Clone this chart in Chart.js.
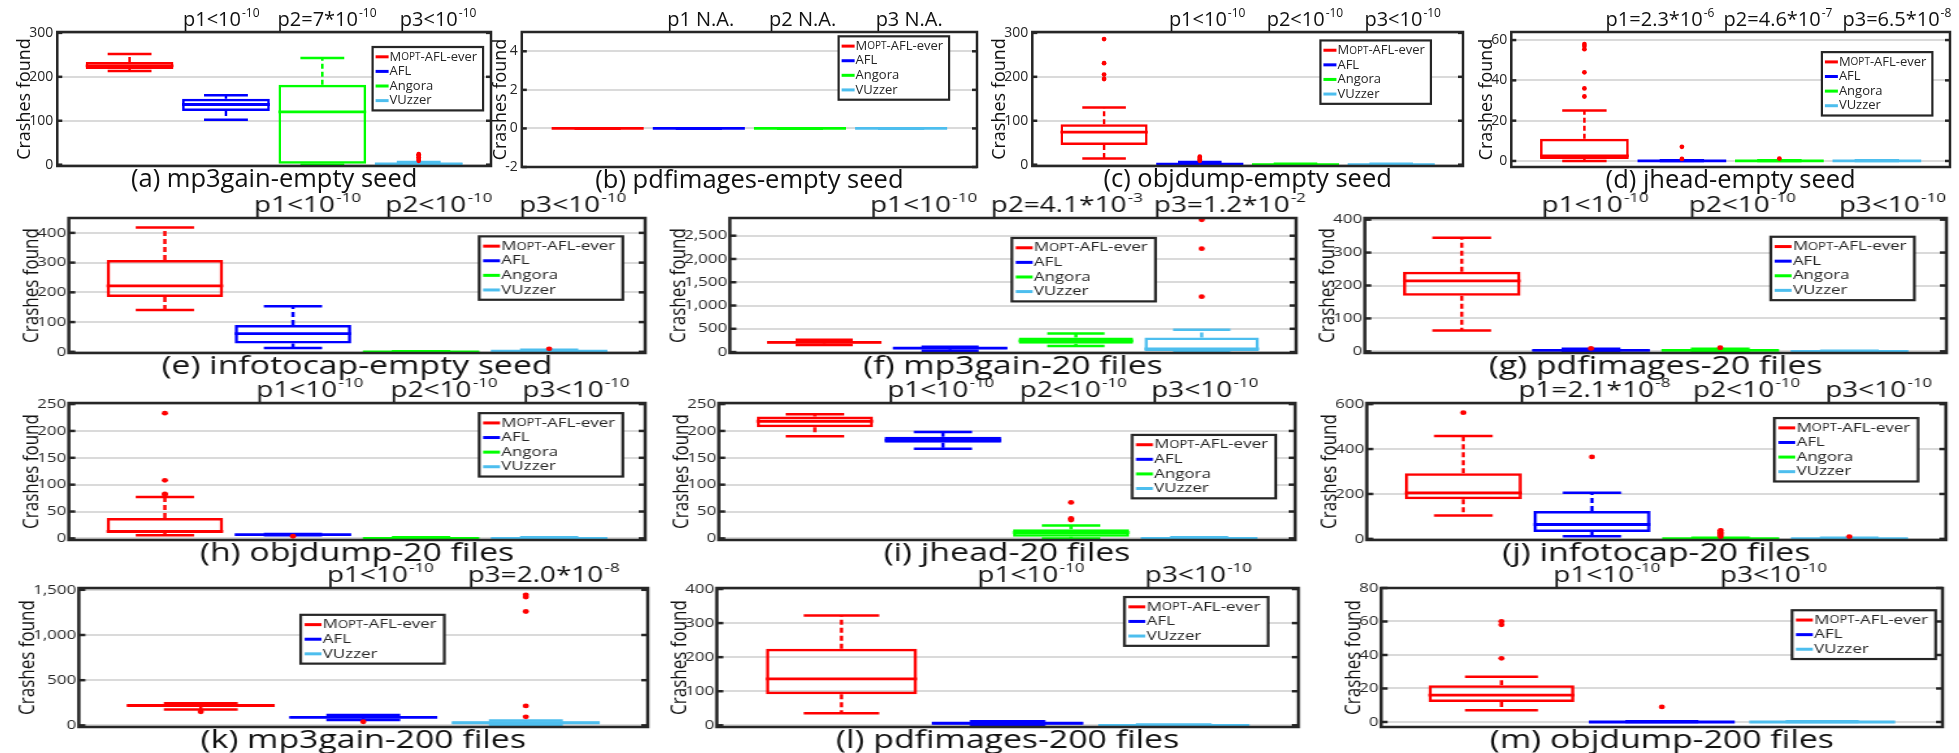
<!DOCTYPE html>
<html>
<head>
<meta charset="utf-8">
<script src="https://cdn.jsdelivr.net/npm/chart.js@4.4.1/dist/chart.umd.min.js"></script>
<style>
  html, body { margin: 0; padding: 0; background: #fff; }
  body { width: 1959px; height: 753px; position: relative; overflow: hidden; }
  .panel { position: absolute; transform-origin: 0 0; }
</style>
</head>
<body>
<script>
// fuzzers
const fuzzers4 = ['MOPT-AFL-ever', 'AFL', 'Angora', 'VUzzer'];
const fuzzers3 = ['MOPT-AFL-ever', 'AFL', 'VUzzer'];

// box stats per fuzzer: [low whisker, q1, median, q3, high whisker]
const statsA = [[213, 218, 225, 234, 252], [102, 122, 137, 150, 158], [0, 0, 120, 182, 243], [0, 1, 2, 4, 6]];
const outA = [[], [], [], [9, 13, 17, 21, 24]];
const pA = [['p1<10', '-10'], ['p2=7*10', '-10'], ['p3<10', '-10']];
const ticksA = [0, 100, 200, 300];
const rangeA = [-3, 302];

const statsB = [[0, 0, 0, 0, 0], [0, 0, 0, 0, 0], [0, 0, 0, 0, 0], [0, 0, 0, 0, 0]];
const outB = [[], [], [], []];
const pB = [['p1 N.A.', ''], ['p2 N.A.', ''], ['p3 N.A.', '']];
const ticksB = [-2, 0, 2, 4];
const rangeB = [-2, 5];

const statsC = [[14, 45, 74, 92, 130], [0, 0, 1, 3, 6], [0, 0, 0, 1, 2], [0, 0, 0, 1, 2]];
const outC = [[286, 231, 205, 195], [9, 12, 15, 18], [], []];
const pC = [['p1<10', '-10'], ['p2<10', '-10'], ['p3<10', '-10']];
const ticksC = [0, 100, 200, 300];
const rangeC = [-3, 302];

const statsD = [[0, 1, 2.5, 11, 25], [0, 0, 0, 0, 0.3], [0, 0, 0, 0, 0.3], [0, 0, 0, 0, 0.3]];
const outD = [[58, 57, 55.5, 44, 36, 32], [7, 1], [1.2], []];
const pD = [['p1=2.3*10', '-6'], ['p2=4.6*10', '-7'], ['p3=6.5*10', '-8']];
const ticksD = [0, 20, 40, 60];
const rangeD = [-3, 64];

const statsE = [[141, 184, 222, 309, 418], [13, 28, 61, 90, 153], [0, 0, 0, 1, 2], [0, 1, 2, 4, 7]];
const outE = [[], [], [], [10]];
const pE = [['p1<10', '-10'], ['p2<10', '-10'], ['p3<10', '-10']];
const ticksE = [0, 100, 200, 300, 400];
const rangeE = [-4, 450];

const statsF = [[150, 185, 210, 235, 262], [30, 62, 85, 102, 115], [129, 180, 240, 314, 400], [0, 0, 70, 314, 478]];
const outF = [[], [], [], [2840, 2220, 1190]];
const pF = [['p1<10', '-10'], ['p2=4.1*10', '-3'], ['p3=1.2*10', '-2']];
const ticksF = [0, 500, 1000, 1500, 2000, 2500];
const rangeF = [-20, 2880];

const statsG = [[63, 169, 214, 242, 345], [0, 1, 3, 6, 8], [0, 1, 3, 6, 8], [0, 0, 0, 1, 2]];
const outG = [[], [9], [11], []];
const pG = [['p1<10', '-10'], ['p2<10', '-10'], ['p3<10', '-10']];
const ticksG = [0, 100, 200, 300, 400];
const rangeG = [-5, 405];

const statsH = [[6, 10, 13, 38, 77], [6, 6, 7, 7, 8], [0, 0, 0, 1, 2], [0, 0, 0, 1, 2]];
const outH = [[233, 108, 83, 81], [4], [], []];
const pH = [['p1<10', '-10'], ['p2<10', '-10'], ['p3<10', '-10']];
const ticksH = [0, 50, 100, 150, 200, 250];
const rangeH = [-3, 252];

const statsI = [[190, 207, 218, 227, 231], [167, 178, 183, 189, 198], [0, 3, 11, 17, 24], [0, 0, 0, 1, 2]];
const outI = [[], [], [67, 37, 34], []];
const pI = [['p1<10', '-10'], ['p2<10', '-10'], ['p3<10', '-10']];
const ticksI = [0, 50, 100, 150, 200, 250];
const rangeI = [-3, 252];

const statsJ = [[104, 176, 205, 292, 458], [12, 31, 64, 124, 205], [0, 0, 1, 3, 5], [0, 0, 1, 3, 5]];
const outJ = [[562], [365], [10, 15, 20, 25, 30, 35, 38], [10]];
const pJ = [['p1=2.1*10', '-8'], ['p2<10', '-10'], ['p3<10', '-10']];
const ticksJ = [0, 200, 400, 600];
const rangeJ = [-5, 605];

const statsK = [[175, 210, 220, 232, 245], [60, 78, 88, 98, 115], [0, 10, 30, 44, 55]];
const outK = [[150], [40], [1445, 1420, 1260, 215, 95]];
const pK = [['p1<10', '-10'], ['p3=2.0*10', '-8']];
const ticksK = [0, 500, 1000, 1500];
const rangeK = [-18, 1520];

const statsL = [[35, 91, 136, 225, 322], [0, 2, 6, 10, 12], [0, 0, 0, 1, 2]];
const outL = [[], [], []];
const pL = [['p1<10', '-10'], ['p3<10', '-10']];
const ticksL = [0, 100, 200, 300, 400];
const rangeL = [-5, 403];

const statsM = [[7, 12, 16, 22, 27], [0, 0, 0, 0, 0.5], [0, 0, 0, 0, 0.5]];
const outM = [[60, 58, 38], [9], []];
const pM = [['p1<10', '-10'], ['p3<10', '-10']];
const ticksM = [0, 20, 40, 60, 80];
const rangeM = [-3, 80];

const colors4 = ['#ff0000', '#0000ff', '#00ff00', '#4dbeee'];
const colors3 = ['#ff0000', '#0000ff', '#4dbeee'];

// layout: frame = [left, top, width, height] of the plot box, sx = horizontal stretch,
// legend = top-left corner as fraction of the plot box, plab = p-label centres as fraction of width
const panels = [
  { caption: '(a) mp3gain-empty seed', names: fuzzers4, stats: statsA, out: outA, pv: pA, ticks: ticksA, range: rangeA, frame: [57, 32, 434, 134], sx: 1, legend: [0.727, 0.112], plab: [0.378, 0.622, 0.878] },
  { caption: '(b) pdfimages-empty seed', names: fuzzers4, stats: statsB, out: outB, pv: pB, ticks: ticksB, range: rangeB, frame: [522, 32, 455, 135], sx: 1, legend: [0.696, 0.032], plab: [0.393, 0.617, 0.851] },
  { caption: '(c) objdump-empty seed', names: fuzzers4, stats: statsC, out: outC, pv: pC, ticks: ticksC, range: rangeC, frame: [1032, 32, 431, 134], sx: 1, legend: [0.669, 0.063], plab: [0.406, 0.633, 0.860] },
  { caption: '(d) jhead-empty seed', names: fuzzers4, stats: statsD, out: outD, pv: pD, ticks: ticksD, range: rangeD, frame: [1511, 32, 439, 135], sx: 1, legend: [0.708, 0.149], plab: [0.339, 0.608, 0.879] },
  { caption: '(e) infotocap-empty seed', names: fuzzers4, stats: statsE, out: outE, pv: pE, ticks: ticksE, range: rangeE, frame: [69, 218, 577, 135], sx: 1.3, legend: [0.712, 0.136], plab: [0.414, 0.642, 0.874] },
  { caption: '(f) mp3gain-20 files', names: fuzzers4, stats: statsF, out: outF, pv: pF, ticks: ticksF, range: rangeF, frame: [730, 218, 566, 135], sx: 1.3, legend: [0.498, 0.148], plab: [0.342, 0.595, 0.883] },
  { caption: '(g) pdfimages-20 files', names: fuzzers4, stats: statsG, out: outG, pv: pG, ticks: ticksG, range: rangeG, frame: [1365, 218, 581, 135], sx: 1.3, legend: [0.698, 0.139], plab: [0.396, 0.649, 0.907] },
  { caption: '(h) objdump-20 files', names: fuzzers4, stats: statsH, out: outH, pv: pH, ticks: ticksH, range: rangeH, frame: [69, 403, 577, 137], sx: 1.3, legend: [0.712, 0.074], plab: [0.418, 0.651, 0.880] },
  { caption: '(i) jhead-20 files', names: fuzzers4, stats: statsI, out: outI, pv: pI, ticks: ticksI, range: rangeI, frame: [719, 403, 577, 137], sx: 1.3, legend: [0.717, 0.233], plab: [0.385, 0.615, 0.843] },
  { caption: '(j) infotocap-20 files', names: fuzzers4, stats: statsJ, out: outJ, pv: pJ, ticks: ticksJ, range: rangeJ, frame: [1367, 403, 579, 137], sx: 1.3, legend: [0.704, 0.11], plab: [0.393, 0.656, 0.884] },
  { caption: '(k) mp3gain-200 files', names: fuzzers3, stats: statsK, out: outK, pv: pK, ticks: ticksK, range: rangeK, frame: [79, 588, 569, 139], sx: 1.3, legend: [0.39, 0.193], plab: [0.530, 0.817] },
  { caption: '(l) pdfimages-200 files', names: fuzzers3, stats: statsL, out: outL, pv: pL, ticks: ticksL, range: rangeL, frame: [717, 588, 581, 139], sx: 1.3, legend: [0.701, 0.065], plab: [0.540, 0.828] },
  { caption: '(m) objdump-200 files', names: fuzzers3, stats: statsM, out: outM, pv: pM, ticks: ticksM, range: rangeM, frame: [1381, 588, 562, 139], sx: 1.3, legend: [0.732, 0.16], plab: [0.402, 0.699] }
];

const FONT = '"Open Sans", sans-serif';
Chart.defaults.font.family = FONT;
Chart.defaults.color = '#262626';

const measureCtx = document.createElement('canvas').getContext('2d');
const fmt = v => v.toLocaleString('en-US');

function seg(ctx, x1, y1, x2, y2) {
  ctx.beginPath(); ctx.moveTo(x1, y1); ctx.lineTo(x2, y2); ctx.stroke();
}

// "MOPT" is written with small caps in the legend
function nameParts(name) {
  return name.startsWith('MOPT') ? [['M', 13], ['OPT', 10], [name.slice(4), 13]] : [[name, 13]];
}
function partsWidth(ctx, parts) {
  return parts.reduce((w, [t, s]) => { ctx.font = s + 'px ' + FONT; return w + ctx.measureText(t).width; }, 0);
}

function boxPlugin(p, colors, st) {
  return {
    id: 'boxPlot',
    afterDatasetsDraw(chart) {
      const { ctx, chartArea: a } = chart;
      const ys = chart.scales.y;
      const bars = chart.getDatasetMeta(0).data;
      ctx.save();
      ctx.beginPath(); ctx.rect(a.left, a.top, a.width, a.height); ctx.clip();
      p.stats.forEach((s, i) => {
        const [lo, q1, med, q3, hi] = s.map(v => ys.getPixelForValue(v));
        const x = bars[i].x, w = bars[i].width;
        ctx.strokeStyle = colors[i];
        ctx.lineWidth = 2.5;
        ctx.setLineDash([5, 3]);
        seg(ctx, x, q3, x, hi);
        seg(ctx, x, q1, x, lo);
        ctx.setLineDash([]);
        seg(ctx, x - w / 4, hi, x + w / 4, hi);
        seg(ctx, x - w / 4, lo, x + w / 4, lo);
        ctx.lineWidth = 2.8;
        seg(ctx, x - w / 2, med, x + w / 2, med);
        ctx.fillStyle = '#ff0000';
        p.out[i].forEach(v => {
          ctx.beginPath(); ctx.arc(x, ys.getPixelForValue(v), 2.4, 0, Math.PI * 2); ctx.fill();
        });
      });
      ctx.restore();
    },
    afterDraw(chart) {
      const { ctx, chartArea: a } = chart;
      const ys = chart.scales.y;
      ctx.save();
      // frame and inner ticks
      ctx.strokeStyle = '#262626';
      ctx.lineWidth = 2.5;
      ctx.strokeRect(a.left, a.top, a.width, a.height);
      p.ticks.forEach(v => {
        const y = ys.getPixelForValue(v);
        seg(ctx, a.left, y, a.left + 5, y);
        seg(ctx, a.right - 5, y, a.right, y);
      });
      // p-values above the plot
      p.pv.forEach(([base, exp], k) => {
        const cx = a.left + p.plab[k] * a.width;
        ctx.font = st.pFont + 'px ' + FONT;
        const wb = ctx.measureText(base).width;
        ctx.font = st.eFont + 'px ' + FONT;
        const we = exp ? ctx.measureText(exp).width + 1 : 0;
        const x0 = cx - (wb + we) / 2;
        ctx.fillStyle = '#111';
        ctx.textAlign = 'left';
        ctx.textBaseline = 'alphabetic';
        ctx.font = st.pFont + 'px ' + FONT;
        ctx.fillText(base, x0, a.top - 6);
        if (exp) { ctx.font = st.eFont + 'px ' + FONT; ctx.fillText(exp, x0 + wb + 1, a.top - 6 - st.pFont * 0.45); }
      });
      // legend
      const rowH = 14.6;
      const maxW = Math.max(...p.names.map(n => partsWidth(ctx, nameParts(n))));
      const bx = a.left + p.legend[0] * a.width, by = a.top + p.legend[1] * a.height;
      const bw = 3 + 13 + 2 + maxW + 5, bh = p.names.length * rowH + 5;
      ctx.fillStyle = '#fff';
      ctx.fillRect(bx, by, bw, bh);
      ctx.strokeStyle = '#262626';
      ctx.lineWidth = 2.2;
      ctx.strokeRect(bx, by, bw, bh);
      p.names.forEach((n, i) => {
        const cy = by + 2.5 + rowH * (i + 0.5);
        ctx.strokeStyle = colors[i];
        ctx.lineWidth = 3;
        seg(ctx, bx + 3, cy, bx + 16, cy);
        let tx = bx + 17;
        ctx.fillStyle = '#262626';
        ctx.textBaseline = 'middle';
        nameParts(n).forEach(([t, s]) => {
          ctx.font = s + 'px ' + FONT;
          ctx.fillText(t, tx, cy + (s < 13 ? 0.5 : 0));
          tx += ctx.measureText(t).width;
        });
      });
      ctx.restore();
    }
  };
}

function makePanel(p) {
  const [fl, ft, fw, fh] = p.frame;
  const sx = p.sx;
  const st = sx === 1
    ? { title: 25.5, pFont: 20, eFont: 12, yTitle: 18, tick: 14, tickPad: 4 }
    : { title: 26, pFont: 21.5, eFont: 13, yTitle: 17, tick: 13, tickPad: 2 };
  // y-axis width follows the widest tick label, so the axis title sits just left of it
  measureCtx.font = st.tick + 'px ' + FONT;
  const labelW = Math.max(...p.ticks.map(v => measureCtx.measureText(fmt(v)).width));
  const yW = st.tickPad + labelW + st.yTitle * 1.2 * 0.8;
  const padTop = 32, xH = 34, padRight = 8;
  const w = Math.round(yW + fw / sx + padRight);
  const h = padTop + fh + xH;
  const colors = p.names.length === 4 ? colors4 : colors3;
  const div = document.createElement('div');
  div.className = 'panel';
  div.style.left = (fl - yW * sx) + 'px';
  div.style.top = (ft - padTop) + 'px';
  div.style.width = w + 'px';
  div.style.height = h + 'px';
  div.style.transform = 'scaleX(' + sx + ')';
  const cv = document.createElement('canvas');
  cv.width = w; cv.height = h;
  cv.style.width = w + 'px'; cv.style.height = h + 'px';
  div.appendChild(cv);
  document.body.appendChild(div);

  new Chart(cv, {
    type: 'bar',
    data: {
      datasets: [{
        data: p.stats.map((s, i) => ({ x: i + 1, y: [s[1], s[3]] })),
        backgroundColor: 'rgba(0,0,0,0)',
        borderColor: colors,
        borderWidth: 2.5,
        borderSkipped: false,
        barPercentage: 0.91,
        categoryPercentage: 1
      }]
    },
    options: {
      responsive: false,
      animation: false,
      devicePixelRatio: 1,
      layout: { padding: { top: padTop, right: padRight, left: 0, bottom: 0 } },
      plugins: { legend: { display: false }, tooltip: { enabled: false } },
      scales: {
        x: {
          type: 'linear',
          min: 0.25,
          max: p.names.length + 0.75,
          offset: false,
          afterBuildTicks: s => { s.ticks = p.names.map((_, i) => ({ value: i + 1 })); },
          afterFit: s => { s.height = xH; },
          ticks: { display: false },
          grid: { display: false },
          border: { display: false },
          title: { display: true, text: p.caption, color: '#111', font: { size: st.title }, padding: { top: 0, bottom: 5 } }
        },
        y: {
          min: p.range[0],
          max: p.range[1],
          afterBuildTicks: s => { s.ticks = p.ticks.map(v => ({ value: v })); },
          afterFit: s => { s.width = yW; },
          ticks: { font: { size: st.tick }, color: '#262626', padding: st.tickPad, callback: v => fmt(v) },
          grid: { color: '#dadada', lineWidth: 2, drawTicks: false },
          border: { display: false },
          title: { display: true, text: 'Crashes found', color: '#111', font: { size: st.yTitle }, padding: { top: 2, bottom: 0 } }
        }
      }
    },
    plugins: [boxPlugin(p, colors, st)]
  });
}

panels.forEach(makePanel);
</script>
</body>
</html>
